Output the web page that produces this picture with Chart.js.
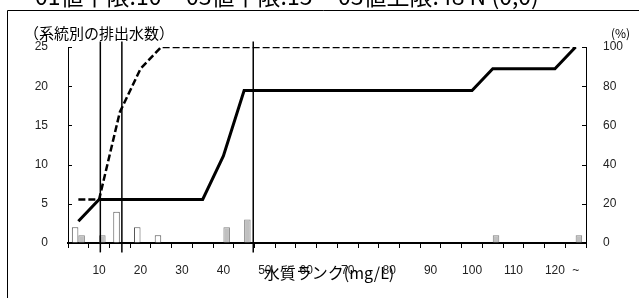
<!DOCTYPE html>
<html>
<head>
<meta charset="utf-8">
<script src="https://cdn.jsdelivr.net/npm/chart.js@4"></script>
<style>
  html, body { margin: 0; padding: 0; background: #fff; }
  #wrap { position: relative; width: 639px; height: 298px; }
</style>
</head>
<body>
<div id="wrap"><canvas id="rankChart" width="639" height="298"></canvas></div>
<script>
// water quality rank categories (mg/L), 5 mg/L steps, last one is "over 120"
const categories = ['5','10','15','20','25','30','35','40','45','50','55','60','65','70','75','80','85','90','95','100','105','110','115','120','~'];

// number of outlets per rank (left axis)
const whiteCounts = [2,0,4,2,1,0,0,0,0,0,0,0,0,0,0,0,0,0,0,0,0,0,0,0,0];
const grayCounts  = [1,1,0,0,0,0,0,2,3,0,0,0,0,0,0,0,0,0,0,0,1,0,0,0,1];

// cumulative share in % (right axis)
const whiteCum = [22.2,22.2,66.7,88.9,100,100,100,100,100,100,100,100,100,100,100,100,100,100,100,100,100,100,100,100,100];
const grayCum  = [11.1,22.2,22.2,22.2,22.2,22.2,22.2,44.4,77.8,77.8,77.8,77.8,77.8,77.8,77.8,77.8,77.8,77.8,77.8,77.8,88.9,88.9,88.9,88.9,100];

// limit lines (mg/L, where they sit on the drawing)
const limitLines = [10.3, 15.5, 47.2];

const leftTicks = [0, 5, 10, 15, 20, 25];
const rightTicks = [0, 20, 40, 60, 80, 100];

const numFont = "'Liberation Sans Narrow', 'Liberation Sans', sans-serif";
const jpFont = "'Noto Sans CJK JP', sans-serif";

// vertical limit lines: mg/L turned into a (fractional) category index, no parsing
const limitSets = limitLines.map(v => ({
  type: 'line',
  parsing: false,
  data: [{x: (v - 5) / 5, y: -1.2}, {x: (v - 5) / 5, y: 25.7}],
  yAxisID: 'y',
  borderColor: '#000',
  borderWidth: 1.5,
  pointRadius: 0,
  clip: false
}));

// draws the frame, header and axis captions, plus inward y ticks
const decorations = {
  id: 'decorations',
  afterDraw(chart) {
    const ctx = chart.ctx;
    const area = chart.chartArea;
    ctx.save();
    // frame
    ctx.strokeStyle = '#000';
    ctx.lineWidth = 1;
    ctx.beginPath();
    ctx.moveTo(7.5, 298);
    ctx.lineTo(7.5, 10.5);
    ctx.lineTo(639, 10.5);
    ctx.stroke();

    // header (cut off at the top)
    ctx.fillStyle = '#000';
    ctx.font = '23px ' + jpFont;
    ctx.textBaseline = 'alphabetic';
    ctx.textAlign = 'left';
    ctx.fillText('01値下限:10', 35, 5);
    ctx.fillText('03値下限:15', 186, 5);
    ctx.fillText('03値上限:48 N (0,0)', 338, 5);

    // axis captions
    ctx.font = '15px ' + jpFont;
    ctx.textBaseline = 'middle';
    ctx.fillText('（系統別の排出水数）', 24, 33);
    ctx.font = '12px ' + jpFont;
    ctx.fillText('(%)', 611, 33);
    ctx.font = '16px ' + jpFont;
    ctx.textAlign = 'center';
    ctx.fillText('水質ランク(mg/L)', 329, 273);

    // inward ticks on both y axes
    ctx.lineWidth = 1;
    const yl = chart.scales.y, yr = chart.scales.y2;
    ctx.beginPath();
    leftTicks.forEach(t => {
      const py = Math.round(yl.getPixelForValue(t)) + 0.5;
      ctx.moveTo(area.left, py); ctx.lineTo(area.left + 4, py);
    });
    rightTicks.forEach(t => {
      const py = Math.round(yr.getPixelForValue(t)) + 0.5;
      ctx.moveTo(area.right, py); ctx.lineTo(area.right - 4, py);
    });
    ctx.stroke();
    ctx.restore();
  }
};

const ctx = document.getElementById('rankChart').getContext('2d');
new Chart(ctx, {
  type: 'bar',
  data: {
    labels: categories,
    datasets: [
      {
        type: 'line',
        data: grayCum,
        yAxisID: 'y2',
        borderColor: '#000',
        borderWidth: 3,
        pointRadius: 0,
        tension: 0
      },
      {
        type: 'line',
        data: whiteCum,
        yAxisID: 'y2',
        borderColor: '#000',
        borderWidth: 2.5,
        borderDash: [7, 3],
        pointRadius: 0,
        tension: 0
      },
      ...limitSets,
      {
        data: whiteCounts.map(v => v || null),
        backgroundColor: '#fff',
        borderColor: '#555',
        borderWidth: 1,
        categoryPercentage: 0.63,
        barPercentage: 1,
        yAxisID: 'y'
      },
      {
        data: grayCounts.map(v => v || null),
        backgroundColor: '#c0c0c0',
        borderColor: '#808080',
        borderWidth: 1,
        categoryPercentage: 0.63,
        barPercentage: 1,
        yAxisID: 'y'
      }
    ]
  },
  options: {
    responsive: false,
    animation: false,
    layout: { padding: { top: 47, left: 0, right: 0, bottom: 0 } },
    plugins: {
      legend: { display: false },
      tooltip: { enabled: false }
    },
    scales: {
      x: {
        offset: true,
        grid: { drawOnChartArea: false, drawTicks: true, tickLength: 5, color: '#000', offset: true },
        border: { color: '#000', width: 2 },
        ticks: {
          autoSkip: false,
          maxRotation: 0,
          padding: 15,
          color: '#222',
          font: { family: numFont, size: 12 },
          callback: (val, i) => (i % 2 === 1 || i === categories.length - 1) ? categories[i] : ''
        },
        afterFit: s => { s.height = 55; }
      },
      y: {
        position: 'left',
        min: 0,
        max: 25,
        afterBuildTicks: s => { s.ticks = leftTicks.map(v => ({ value: v })); },
        grid: { drawOnChartArea: false, drawTicks: false },
        border: { color: '#000', width: 1 },
        ticks: { padding: 20, color: '#222', font: { family: numFont, size: 12 } },
        afterFit: s => { s.width = 68; }
      },
      y2: {
        position: 'right',
        min: 0,
        max: 100,
        afterBuildTicks: s => { s.ticks = rightTicks.map(v => ({ value: v })); },
        grid: { drawOnChartArea: false, drawTicks: false },
        border: { color: '#000', width: 1 },
        ticks: { padding: 17, color: '#222', font: { family: numFont, size: 12 } },
        afterFit: s => { s.width = 53; }
      }
    }
  },
  plugins: [decorations]
});
</script>
</body>
</html>
